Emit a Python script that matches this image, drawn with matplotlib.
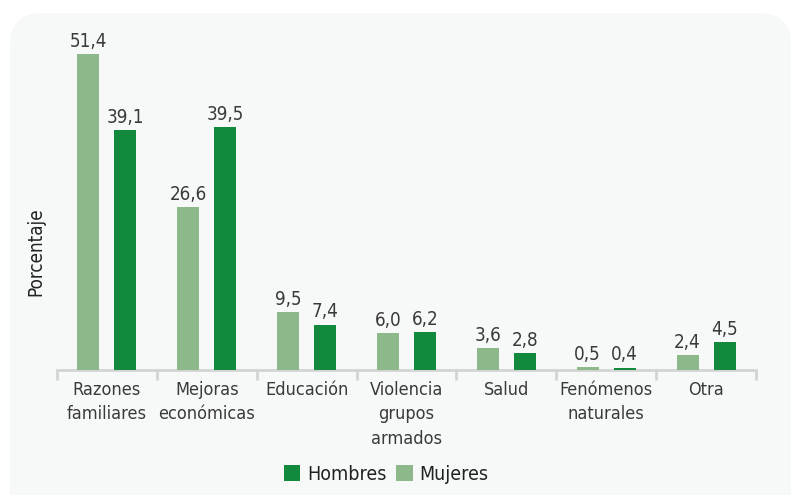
import matplotlib
matplotlib.use("Agg")
import matplotlib.pyplot as plt
from matplotlib.patches import FancyBboxPatch
from matplotlib import font_manager
import numpy as np

categories = ["Razones\nfamiliares", "Mejoras\neconómicas", "Educación",
              "Violencia\ngrupos\narmados", "Salud", "Fenómenos\nnaturales", "Otra"]
mujeres = [51.4, 26.6, 9.5, 6.0, 3.6, 0.5, 2.4]
hombres = [39.1, 39.5, 7.4, 6.2, 2.8, 0.4, 4.5]

names = {f.name for f in font_manager.fontManager.ttflist}
fam = "Liberation Sans Narrow" if "Liberation Sans Narrow" in names else "DejaVu Sans"
plt.rcParams["font.family"] = [fam, "DejaVu Sans"]
plt.rcParams["font.stretch"] = "condensed"

c_m = "#8db98a"
c_h = "#12893d"
txt = "#3a3a3a"

fig = plt.figure(figsize=(7.92, 4.95), dpi=100)
fig.patch.set_facecolor("white")
bg = FancyBboxPatch((10 / 792, -0.1), (781 / 792), 0.1 + 482 / 495, transform=fig.transFigure,
                    boxstyle="round,pad=0,rounding_size=0.04", facecolor="#f7f9f9",
                    edgecolor="none", zorder=-5, mutation_aspect=792 / 495)
fig.patches.append(bg)

ax = fig.add_axes([57 / 792, 125 / 495, (756 - 57) / 792, 0.686])
ax.set_facecolor("none")
x = np.arange(len(categories))
off, w = 0.185, 0.22
bm = ax.bar(x - off, mujeres, w, color=c_m, label="Mujeres", zorder=3)
bh = ax.bar(x + off, hombres, w, color=c_h, label="Hombres", zorder=3)

def fmt(v):
    return f"{v:.1f}".replace(".", ",")

for xi, v in zip(x - off, mujeres):
    ax.text(xi, v + 0.5, fmt(v), ha="center", va="bottom", fontsize=13.5, color=txt)
for xi, v in zip(x + off, hombres):
    ax.text(xi, v + 0.5, fmt(v), ha="center", va="bottom", fontsize=13.5, color=txt)

ax.set_xlim(-0.5, len(categories) - 0.5)
ax.set_ylim(0, 55.3)
for s in ["top", "right", "left"]:
    ax.spines[s].set_visible(False)
ax.spines["bottom"].set_color("#d2d4d4")
ax.spines["bottom"].set_linewidth(2)
ax.set_yticks([])
ax.set_xticks(np.arange(len(categories) + 1) - 0.5, minor=False)
ax.set_xticklabels([])
ax.tick_params(axis="x", which="major", length=7, width=2, color="#d2d4d4", direction="out")
ax.set_xticks(x, minor=True)
ax.set_xticklabels(categories, minor=True, fontsize=13, color=txt, linespacing=1.45)
ax.tick_params(axis="x", which="minor", length=0, pad=8)

ax.set_ylabel("Porcentaje", fontsize=13.5, color="#222222")
ax.yaxis.set_label_coords(-12 / 699, (370 - 252) / (0.686 * 495))

handles = [bh, bm]
leg = fig.legend(handles, ["Hombres", "Mujeres"], loc="center", bbox_to_anchor=(386 / 792, 1 - 474 / 495),
                 ncol=2, frameon=False, fontsize=14, handlelength=0.85, handleheight=0.85,
                 handletextpad=0.35, columnspacing=0.5)
for t in leg.get_texts():
    t.set_color("#222222")

fig.savefig("out.png", dpi=100)
